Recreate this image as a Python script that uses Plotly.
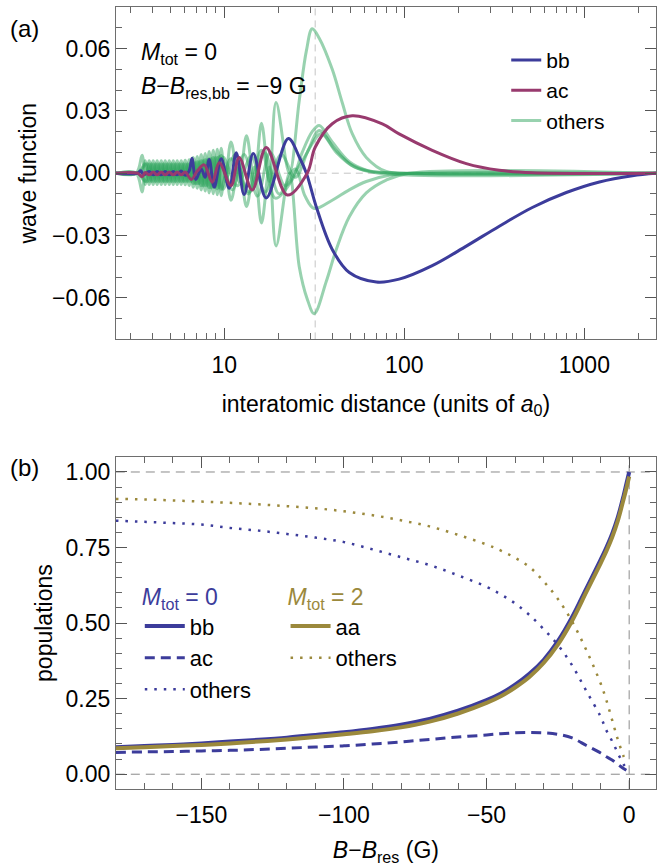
import plotly.graph_objects as go

# ---------------- panel (a): wave function vs interatomic distance (a0) ----------------
R_DENSE_A = [3.64, 3.83, 4.03, 4.24, 4.47, 4.70, 4.95, 5.21, 5.48, 5.77,
             6.07, 6.39, 6.73, 7.08, 7.45, 7.84, 8.25, 8.69, 9.15, 9.62]
R_DENSE_B = [3.73, 3.93, 4.14, 4.35, 4.58, 4.82, 5.08, 5.34, 5.62, 5.92,
             6.23, 6.56, 6.90, 7.26, 7.64, 8.05, 8.47, 8.91, 9.38, 9.87]

BB_R = [2.5, 3.3, 3.45, 3.56, 3.83, 4.03, 4.24, 4.47, 4.70, 4.95, 5.21, 5.48, 5.77, 6.07, 6.39,
        6.62, 6.95, 7.45, 7.84, 8.25, 8.8, 9.62, 10.66, 11.66, 12.9, 14.5, 17.1, 22.7,
        26.1, 28.6, 32.4, 39.8, 49.5, 70.0, 93.6, 143, 221, 337, 514, 794, 1212, 1848, 2500]
BB_Y = [0, 0, 0.0012, -0.0008, 0.0008, -0.0008, 0.0008, -0.0008, 0.0008, -0.0008, 0.0008, -0.0008, 0.001, -0.001, 0.0012,
        0.0072, -0.003, 0.002, -0.002, 0.0066, -0.0067, 0.007, -0.0073, 0.0098, -0.0103, 0.0095, -0.0119, 0.0167,
        0.0078, 0.0, -0.016, -0.0367, -0.0478, -0.0524, -0.051, -0.0445, -0.0351, -0.0255, -0.0165, -0.0093,
        -0.0042, -0.0012, 0]

AC_R = [2.5, 3.3, 3.5, 3.64, 3.83, 4.03, 4.24, 4.47, 4.70, 4.95, 5.21, 5.48, 5.77, 6.07,
        6.56, 7.08, 7.74, 8.58, 9.38, 10.9, 12.1, 14.3, 17.1, 22.4, 28.9, 32.0, 39.8, 51.4,
        75.5, 93.6, 143, 221, 337, 514, 2500]
AC_Y = [0, 0, -0.0017, 0.0003, -0.0008, 0.0006, -0.0008, 0.0006, -0.0008, 0.0006, -0.0008, 0.0006, -0.0008, 0.0006,
        -0.003, 0.001, 0.004, -0.0043, 0.005, -0.006, 0.0076, -0.0081, 0.0124, -0.0105, 0.0, 0.0125, 0.0238, 0.0276,
        0.0237, 0.0189, 0.011, 0.0046, 0.0014, 0.0002, 0]

G1_R = [2.5, 3.24, 3.5] + R_DENSE_A + [10.13, 10.9, 12.1, 13.3, 14.7, 16.1, 17.8, 19.4, 23.0, 26.1, 28.6,
                                        30.8, 33.7, 39.8, 45.2, 51.4, 61.5, 79.4, 121, 2500]
G1_Y = [0, 0, 0.0086,
        -0.0054, 0.006, -0.0054, 0.006, -0.0054, 0.006, -0.0054, 0.006, -0.0054, 0.006,
        -0.0056, 0.0065, -0.0068, 0.008, -0.0081, 0.0095, -0.0095, 0.011, -0.0104, 0.012,
        -0.004, 0.015, -0.004, 0.018, -0.004, 0.024, -0.004, 0.034, 0.0, 0.035, 0.059,
        0.0695, 0.065, 0.05, 0.034, 0.019, 0.0076, 0.0008, 0, 0]

G2_R = [2.5, 3.24, 3.5] + R_DENSE_A + [10.13, 10.9, 12.1, 13.3, 14.7, 16.1, 17.8, 19.4, 23.0, 26.1, 28.9,
                                        31.6, 36.9, 41.9, 49.5, 61.5, 79.4, 106.6, 2500]
G2_Y = [0, 0, -0.009,
        0.006, -0.0054, 0.006, -0.0054, 0.006, -0.0054, 0.006, -0.0054, 0.006, -0.0054,
        0.0062, -0.0059, 0.0075, -0.0072, 0.009, -0.0086, 0.0105, -0.0099, 0.0115, -0.0108,
        0.003, -0.013, 0.003, -0.016, 0.003, -0.024, 0.003, -0.035, 0.0, -0.045, -0.0605,
        -0.0676, -0.052, -0.0367, -0.021, -0.0095, -0.0033, 0, 0]

G3_R = [2.5, 3.3] + R_DENSE_B + [11.5, 13.6, 16.1, 19.2, 23.9, 27.1, 30.8, 33.7, 39.8, 49.5, 61.5, 93.6, 2500]
G3_Y = [0, 0,
        0.0045, -0.004, 0.0045, -0.004, 0.0045, -0.004, 0.0045, -0.004, 0.0045, -0.004,
        0.0045, -0.004, 0.005, -0.005, 0.006, -0.006, 0.007, -0.0068, 0.008, -0.0077,
        0.009, -0.010, 0.011, -0.012, -0.003, 0.010, 0.020, 0.023, 0.015, 0.0055, 0.0015, 0, 0]

G4_R = [2.5, 3.3] + R_DENSE_A + [11.1, 12.9, 15.3, 18.0, 21.8, 25.4, 28.9, 33.7, 40.8, 50.8, 63.9, 100, 2500]
G4_Y = [0, 0,
        -0.004, 0.0045, -0.004, 0.0045, -0.004, 0.0045, -0.004, 0.0045, -0.004, 0.0045,
        -0.004, 0.0045, -0.005, 0.0055, -0.006, 0.0065, -0.007, 0.0075, -0.0075, 0.0085,
        -0.008, 0.009, -0.011, 0.010, -0.006, 0.002, 0.010, 0.0205, 0.012, 0.004, 0.001, 0, 0]

G5_R = [2.5, 3.3] + R_DENSE_B + [11.8, 14.1, 16.9, 20.7, 24.8, 29.7, 34.6, 41.9, 52.7, 72.6, 2500]
G5_Y = [0, 0,
        -0.004, 0.0045, -0.004, 0.0045, -0.004, 0.0045, -0.004, 0.0045, -0.004, 0.0045,
        -0.004, 0.0045, -0.005, 0.0055, -0.006, 0.0065, -0.007, 0.0075, -0.007, 0.0077,
        -0.006, 0.008, -0.009, 0.009, -0.002, 0.012, 0.019, 0.010, 0.003, 0, 0]

G6_R = [2.5, 3.3] + R_DENSE_A + [10.9, 13.8, 16.7, 20.2, 24.8, 28.1, 31.6, 39.8, 49.5, 61.5, 82.5, 121, 2500]
G6_Y = [0, 0,
        0.0045, -0.004, 0.0045, -0.004, 0.0045, -0.004, 0.0045, -0.004, 0.0045, -0.004,
        0.0045, -0.004, 0.005, -0.005, 0.006, -0.006, 0.007, -0.0068, 0.0075, -0.0077,
        0.007, -0.009, 0.010, -0.010, 0.002, -0.011, -0.017, -0.013, -0.008, -0.004, -0.001, 0, 0]

OTHERS_R = [G1_R, G2_R, G3_R, G4_R, G5_R, G6_R]
OTHERS_Y = [G1_Y, G2_Y, G3_Y, G4_Y, G5_Y, G6_Y]

R_MARK = 32          # dashed vertical reference line
R_RANGE = [2.5, 2500]
PSI_RANGE = [-0.08, 0.08]

# ---------------- panel (b): populations vs B - B_res (G) ----------------
B_FIELD = [-180, -170, -160, -150, -140, -130, -120, -110, -100, -90, -80, -70, -60, -50,
           -45, -40, -35, -30, -25, -20, -15, -10, -8, -6, -4, -2, -1, 0]
POP_BB = [0.089, 0.093, 0.097, 0.102, 0.108, 0.114, 0.121, 0.130, 0.139, 0.150, 0.164, 0.183, 0.210, 0.245,
          0.267, 0.296, 0.332, 0.378, 0.44, 0.52, 0.615, 0.71, 0.75, 0.795, 0.85, 0.92, 0.96, 1.0]
POP_AA = [0.086, 0.089, 0.093, 0.097, 0.102, 0.108, 0.115, 0.123, 0.132, 0.142, 0.155, 0.174, 0.201, 0.236,
          0.258, 0.287, 0.322, 0.368, 0.429, 0.508, 0.603, 0.698, 0.738, 0.783, 0.838, 0.908, 0.945, 0.985]
POP_AC = [0.072, 0.074, 0.075, 0.077, 0.079, 0.082, 0.086, 0.090, 0.094, 0.100, 0.107, 0.115, 0.123, 0.130,
          0.134, 0.137, 0.138, 0.137, 0.132, 0.12, 0.095, 0.07, 0.058, 0.047, 0.033, 0.019, 0.013]
POP_OTHERS_M0 = [0.839, 0.835, 0.831, 0.826, 0.815, 0.806, 0.795, 0.783, 0.768, 0.744, 0.718, 0.692, 0.658, 0.62,
                 0.595, 0.565, 0.527, 0.48, 0.428, 0.36, 0.275, 0.19, 0.145, 0.11, 0.07, 0.033, 0.02]
POP_OTHERS_M2 = [0.911, 0.909, 0.906, 0.902, 0.898, 0.893, 0.887, 0.880, 0.870, 0.857, 0.840, 0.82, 0.792, 0.76,
                 0.74, 0.716, 0.686, 0.638, 0.58, 0.505, 0.41, 0.30, 0.245, 0.18, 0.115, 0.06, 0.036]
B_RANGE = [-180, 9.4]
POP_RANGE = [-0.05, 1.05]

# ---------------- styling ----------------
FONT = "Liberation Sans, Arial, sans-serif"
FS = 23
LFS_TOP = 21
LFS_BOT = 22
BLUE = "rgb(60,60,155)"
PURPLE = "rgb(152,58,110)"
OLIVE = "rgb(155,137,60)"
GREEN = "rgba(50,165,95,0.5)"
W, H = 657, 866

fig = go.Figure()

# reference lines, panel (a)
fig.add_trace(go.Scatter(x=R_RANGE, y=[0, 0], mode="lines", showlegend=False, hoverinfo="skip",
                         line=dict(color="#c4c4c4", width=1, dash="7px,5px"), xaxis="x", yaxis="y"))
fig.add_trace(go.Scatter(x=[R_MARK, R_MARK], y=PSI_RANGE, mode="lines", showlegend=False, hoverinfo="skip",
                         line=dict(color="#c4c4c4", width=1, dash="7px,5px"), xaxis="x", yaxis="y"))

for i, (rr, yy) in enumerate(zip(OTHERS_R, OTHERS_Y)):
    fig.add_trace(go.Scatter(x=rr, y=yy, mode="lines", name="others", legendgroup="others",
                             showlegend=(i == 0), legendrank=3, legend="legend",
                             line=dict(color=GREEN, width=3, shape="spline"), xaxis="x", yaxis="y"))
fig.add_trace(go.Scatter(x=BB_R, y=BB_Y, mode="lines", name="bb", legendrank=1, legend="legend",
                         line=dict(color=BLUE, width=3, shape="spline"), xaxis="x", yaxis="y"))
fig.add_trace(go.Scatter(x=AC_R, y=AC_Y, mode="lines", name="ac", legendrank=2, legend="legend",
                         line=dict(color=PURPLE, width=3, shape="spline"), xaxis="x", yaxis="y"))

# reference lines, panel (b)
for yv in (0, 1):
    fig.add_trace(go.Scatter(x=B_RANGE, y=[yv, yv], mode="lines", showlegend=False, hoverinfo="skip",
                             line=dict(color="#8a8a8a", width=1, dash="9px,6px"), xaxis="x2", yaxis="y2"))
fig.add_trace(go.Scatter(x=[0, 0], y=POP_RANGE, mode="lines", showlegend=False, hoverinfo="skip",
                         line=dict(color="#a0a0a0", width=1.2, dash="9px,6px"), xaxis="x2", yaxis="y2"))

B_PART = B_FIELD[:-1]
fig.add_trace(go.Scatter(x=B_PART, y=POP_OTHERS_M0, mode="lines", name="others", legend="legend2", legendrank=3,
                         line=dict(color=BLUE, width=2.5, dash="2.5px,7px", shape="spline"), xaxis="x2", yaxis="y2"))
fig.add_trace(go.Scatter(x=B_PART, y=POP_OTHERS_M2, mode="lines", name="others", legend="legend3", legendrank=2,
                         line=dict(color=OLIVE, width=2.5, dash="2.5px,7px", shape="spline"), xaxis="x2", yaxis="y2"))
fig.add_trace(go.Scatter(x=B_PART, y=POP_AC, mode="lines", name="ac", legend="legend2", legendrank=2,
                         line=dict(color=BLUE, width=3, dash="10px,6px", shape="spline"), xaxis="x2", yaxis="y2"))
fig.add_trace(go.Scatter(x=B_FIELD, y=POP_BB, mode="lines", name="bb", legend="legend2", legendrank=1,
                         line=dict(color=BLUE, width=4, shape="spline"), xaxis="x2", yaxis="y2"))
fig.add_trace(go.Scatter(x=B_FIELD, y=POP_AA, mode="lines", name="aa", legend="legend3", legendrank=1,
                         line=dict(color=OLIVE, width=4, shape="spline"), xaxis="x2", yaxis="y2"))

axis_common = dict(showline=True, linecolor="#6e6e6e", linewidth=1, mirror="allticks",
                   ticks="inside", ticklen=11, tickwidth=1, tickcolor="#555",
                   showgrid=False, zeroline=False,
                   tickfont=dict(family=FONT, size=FS, color="black"))
minor_common = dict(ticks="inside", ticklen=6, tickwidth=1, tickcolor="#666", showgrid=False)

XDOM = [116 / W, 1.0]
fig.update_layout(
    width=W, height=H, margin=dict(l=0, r=0, t=0, b=0),
    paper_bgcolor="white", plot_bgcolor="white",
    font=dict(family=FONT, size=FS, color="black"),
    xaxis=dict(axis_common, type="log", range=[0.39794, 3.39794], domain=XDOM, anchor="y",
               tickvals=[10, 100, 1000], ticktext=["10", "100", "1000"], ticklabelstandoff=5,
               minor=dict(minor_common, tickvals=[3, 4, 5, 6, 7, 8, 9, 20, 30, 40, 50, 60, 70, 80, 90,
                                                 200, 300, 400, 500, 600, 700, 800, 900, 2000]),
               title=dict(text="interatomic distance (units of <i>a</i><sub>0</sub>)",
                          font=dict(family=FONT, size=FS), standoff=18)),
    yaxis=dict(axis_common, range=PSI_RANGE, domain=[1 - 341 / H, 1 - 7 / H], anchor="x",
               tickvals=[-0.06, -0.03, 0, 0.03, 0.06],
               ticktext=["\u22120.06", "\u22120.03", "0.00", "0.03", "0.06"],
               minor=dict(minor_common, tickvals=[-0.08, -0.07, -0.05, -0.04, -0.02, -0.01,
                                                 0.01, 0.02, 0.04, 0.05, 0.07, 0.08]),
               title=dict(text="wave function", font=dict(family=FONT, size=FS), standoff=8)),
    xaxis2=dict(axis_common, range=B_RANGE, domain=XDOM, anchor="y2", ticklabelstandoff=5,
                tickvals=[-150, -100, -50, 0], ticktext=["\u2212150", "\u2212100", "\u221250", "0"],
                minor=dict(minor_common, tickvals=[-180, -170, -160, -140, -130, -120, -110, -90, -80,
                                                  -70, -60, -40, -30, -20, -10]),
                title=dict(text="<i>B</i>\u2212<i>B</i><sub>res</sub> (G)",
                           font=dict(family=FONT, size=FS), standoff=22)),
    yaxis2=dict(axis_common, range=POP_RANGE, domain=[1 - 793 / H, 1 - 459 / H], anchor="x2",
                tickvals=[0, 0.25, 0.5, 0.75, 1.0],
                ticktext=["0.00", "0.25", "0.50", "0.75", "1.00"],
                minor=dict(minor_common, tickvals=[0.05, 0.1, 0.15, 0.2, 0.3, 0.35, 0.4, 0.45,
                                                  0.55, 0.6, 0.65, 0.7, 0.8, 0.85, 0.9, 0.95]),
                title=dict(text="populations", font=dict(family=FONT, size=FS), standoff=6)),
    legend=dict(x=507 / W, y=1 - 40 / H, xanchor="left", yanchor="top", bgcolor="rgba(0,0,0,0)",
                font=dict(family=FONT, size=LFS_TOP), traceorder="normal", itemwidth=30),
    legend2=dict(x=140 / W, y=1 - 578 / H, xanchor="left", yanchor="top", bgcolor="rgba(0,0,0,0)",
                 font=dict(family=FONT, size=LFS_BOT), traceorder="normal", itemwidth=40,
                 title=dict(text="<i>M</i><sub>tot</sub> = 0", font=dict(family=FONT, size=FS, color=BLUE))),
    legend3=dict(x=286 / W, y=1 - 578 / H, xanchor="left", yanchor="top", bgcolor="rgba(0,0,0,0)",
                 font=dict(family=FONT, size=LFS_BOT), traceorder="normal", itemwidth=40,
                 title=dict(text="<i>M</i><sub>tot</sub> = 2", font=dict(family=FONT, size=FS, color=OLIVE))),
    annotations=[
        dict(text="(a)", x=8 / W, y=1 - 29 / H, xref="paper", yref="paper", xanchor="left", yanchor="middle",
             showarrow=False, font=dict(family=FONT, size=FS + 1)),
        dict(text="(b)", x=8 / W, y=1 - 470 / H, xref="paper", yref="paper", xanchor="left", yanchor="middle",
             showarrow=False, font=dict(family=FONT, size=FS + 1)),
        dict(text="<i>M</i><sub>tot</sub> = 0", x=139 / W, y=1 - 54 / H, xref="paper", yref="paper",
             xanchor="left", yanchor="middle", showarrow=False, font=dict(family=FONT, size=FS)),
        dict(text="<i>B</i>\u2212<i>B</i><sub>res,bb</sub> = \u22129 G", x=139 / W, y=1 - 88 / H,
             xref="paper", yref="paper", xanchor="left", yanchor="middle", showarrow=False,
             font=dict(family=FONT, size=FS)),
    ],
)

fig.write_html("out.html")
